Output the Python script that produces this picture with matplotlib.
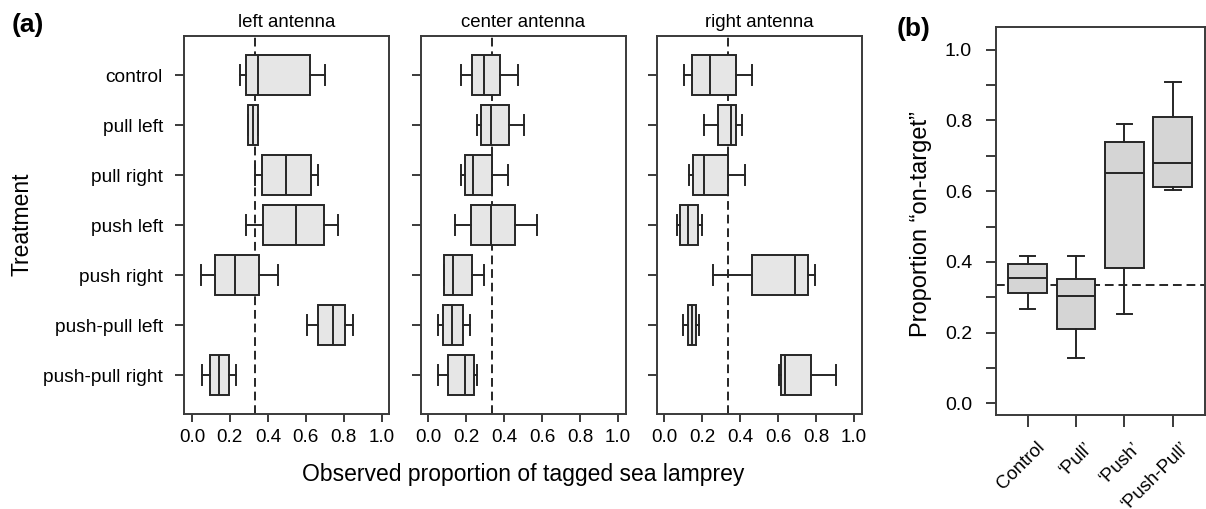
import numpy as np
import matplotlib.pyplot as plt
from matplotlib.transforms import ScaledTranslation, blended_transform_factory

plt.rcParams['font.family'] = ['Liberation Sans', 'DejaVu Sans']

# panel (a): treatments (top to bottom) and antennas
treatments = ['control', 'pull left', 'pull right', 'push left', 'push right',
              'push-pull left', 'push-pull right']
antennas = ['left antenna', 'center antenna', 'right antenna']

# box stats: whisker low, Q1, median, Q3, whisker high
left_lo = [0.251, 0.298, 0.335, 0.284, 0.046, 0.605, 0.051]
left_q1 = [0.283, 0.298, 0.367, 0.376, 0.123, 0.663, 0.093]
left_med = [0.350, 0.323, 0.495, 0.546, 0.225, 0.742, 0.142]
left_q3 = [0.621, 0.347, 0.625, 0.695, 0.353, 0.805, 0.195]
left_hi = [0.702, 0.347, 0.662, 0.769, 0.455, 0.851, 0.235]

center_lo = [0.172, 0.255, 0.172, 0.141, 0.083, 0.051, 0.051]
center_q1 = [0.229, 0.276, 0.192, 0.225, 0.083, 0.077, 0.105]
center_med = [0.295, 0.329, 0.234, 0.329, 0.128, 0.123, 0.192]
center_q3 = [0.379, 0.424, 0.337, 0.457, 0.232, 0.185, 0.239]
center_hi = [0.474, 0.503, 0.418, 0.573, 0.295, 0.218, 0.257]

right_lo = [0.104, 0.207, 0.128, 0.067, 0.258, 0.100, 0.604]
right_q1 = [0.146, 0.285, 0.149, 0.084, 0.462, 0.126, 0.617]
right_med = [0.239, 0.351, 0.209, 0.123, 0.690, 0.144, 0.634]
right_q3 = [0.379, 0.379, 0.334, 0.178, 0.755, 0.165, 0.775]
right_hi = [0.462, 0.408, 0.425, 0.199, 0.794, 0.181, 0.906]

# panel (b)
groups = ['Control', '\u2018Pull\u2019', '\u2018Push\u2019', '\u2018Push-Pull\u2019']
b_lo = [0.266, 0.129, 0.253, 0.602]
b_q1 = [0.311, 0.209, 0.383, 0.613]
b_med = [0.353, 0.303, 0.650, 0.680]
b_q3 = [0.393, 0.351, 0.739, 0.809]
b_hi = [0.417, 0.417, 0.790, 0.910]

chance = 1 / 3

line_col = '#262626'
frame_col = '#3a3a3a'
W, H = 1206, 509
lw = 1.4


def make_stats(lo, q1, med, q3, hi):
    return [dict(whislo=a, q1=b, med=c, q3=d, whishi=e)
            for a, b, c, d, e in zip(lo, q1, med, q3, hi)]


def style_frame(ax):
    for s in ax.spines.values():
        s.set_color(frame_col)
        s.set_linewidth(lw)
    ax.tick_params(colors=frame_col, labelcolor='black', width=lw)


fig = plt.figure(figsize=(W / 100, H / 100), dpi=100)

panel_stats = [
    make_stats(left_lo, left_q1, left_med, left_q3, left_hi),
    make_stats(center_lo, center_q1, center_med, center_q3, center_hi),
    make_stats(right_lo, right_q1, right_med, right_q3, right_hi),
]
panel_x = [184.3, 420.7, 656.7]
ypos = np.arange(1, len(treatments) + 1)

lp = dict(color=line_col, linewidth=lw)
for i, (stats, x0) in enumerate(zip(panel_stats, panel_x)):
    ax = fig.add_axes([x0 / W, 1 - 414 / H, 205 / W, 378 / H])
    ax.axvline(chance, color=line_col, linewidth=lw, linestyle=(0, (4.5, 2.5)), zorder=1)
    ax.bxp(stats, positions=ypos, widths=0.8, orientation='horizontal',
           patch_artist=True, showfliers=False, capwidths=0.4, manage_ticks=False,
           boxprops=dict(facecolor='#e6e6e6', edgecolor=line_col, linewidth=lw),
           medianprops=lp, whiskerprops=lp, capprops=lp)
    ax.set_xlim(-0.04, 1.04)
    ax.set_ylim(7.78, 0.22)
    ax.set_xticks(np.arange(0, 1.01, 0.2))
    ax.set_xticklabels(['%.1f' % v for v in np.arange(0, 1.01, 0.2)])
    ax.set_yticks(ypos)
    if i == 0:
        ax.set_yticklabels(treatments)
    else:
        ax.set_yticklabels([])
    ax.tick_params(axis='x', length=6, pad=5, labelsize=13.6)
    ax.tick_params(axis='y', length=6.5, pad=9, labelsize=13.8)
    ax.set_title(antennas[i], fontsize=13.4, pad=6.5)
    style_frame(ax)

# panel (b)
axb = fig.add_axes([995.7 / W, 1 - 415 / H, 209 / W, 388.3 / H])
xpos = np.arange(1, len(groups) + 1)
axb.axhline(chance, color=line_col, linewidth=lw, linestyle=(0, (4.5, 2.5)), zorder=1)
axb.bxp(make_stats(b_lo, b_q1, b_med, b_q3, b_hi), positions=xpos, widths=0.8,
        patch_artist=True, showfliers=False, capwidths=0.32, manage_ticks=False,
        boxprops=dict(facecolor='#d5d5d5', edgecolor=line_col, linewidth=lw),
        medianprops=lp, whiskerprops=lp, capprops=lp)
axb.set_xlim(0.34, 4.66)
axb.set_ylim(-0.033, 1.065)
axb.set_yticks(np.arange(0, 1.01, 0.1))
axb.set_yticklabels(['%.1f' % v if k % 2 == 0 else '' for k, v in enumerate(np.arange(0, 1.01, 0.1))])
axb.set_xticks(xpos)
axb.set_xticklabels([])
axb.tick_params(axis='y', length=7, pad=10, labelsize=14)
axb.tick_params(axis='x', length=8.5)
style_frame(axb)

# rotated group labels below the ticks
lab_trans = blended_transform_factory(axb.transData, axb.transAxes) + \
    ScaledTranslation(14 / 100, -30 / 100, fig.dpi_scale_trans)
for p, g in zip(xpos, groups):
    axb.text(p, 0, g, transform=lab_trans, rotation=45, ha='right', va='center',
             rotation_mode='anchor', fontsize=13.4, clip_on=False)

fig.text(12 / W, 1 - 25 / H, '(a)', fontsize=19, fontweight='bold', ha='left', va='center')
fig.text(897 / W, 1 - 29 / H, '(b)', fontsize=19, fontweight='bold', ha='left', va='center')
fig.text(22 / W, 1 - 224 / H, 'Treatment', fontsize=16.5, rotation=90, ha='center', va='center')
fig.text(523 / W, 1 - 474 / H, 'Observed proportion of tagged sea lamprey', fontsize=16.5,
         ha='center', va='center')
fig.text(921 / W, 1 - 224 / H, 'Proportion \u201con-target\u201d', fontsize=17,
         rotation=90, ha='center', va='center')

fig.savefig('out.png', dpi=100)
